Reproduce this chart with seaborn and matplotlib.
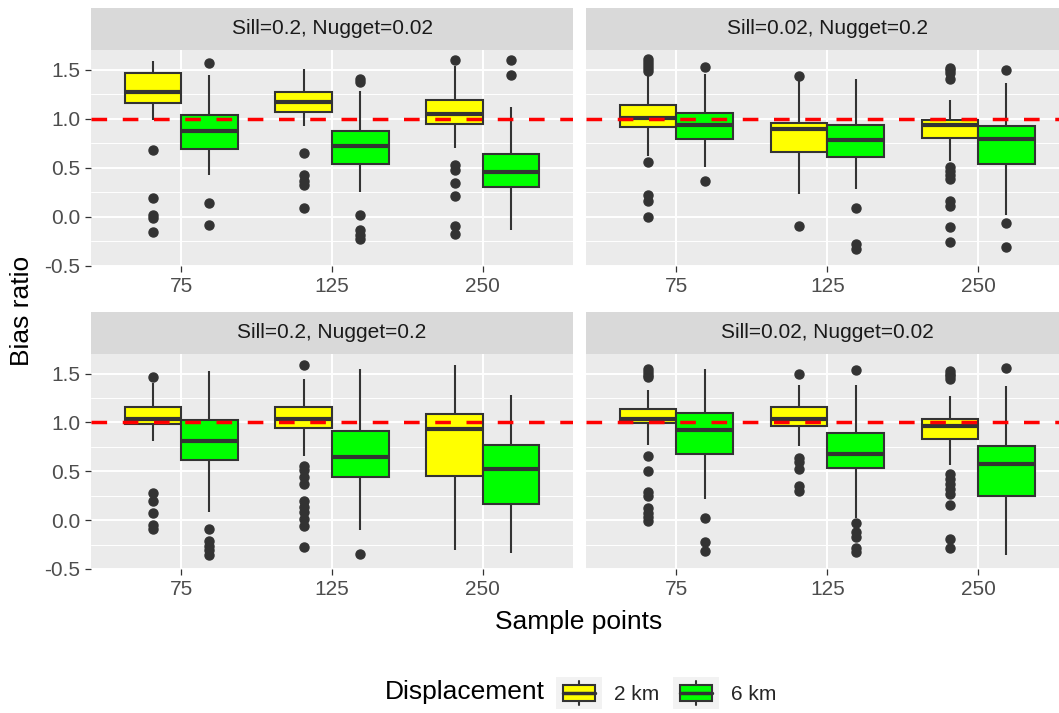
import numpy as np
import pandas as pd
import matplotlib
matplotlib.use("Agg")
import matplotlib.pyplot as plt
from matplotlib.patches import Rectangle, Patch
from matplotlib.lines import Line2D
from matplotlib.legend_handler import HandlerBase
from matplotlib.ticker import FixedLocator
import seaborn as sns

# ---------------- data ----------------
facets = ["Sill=0.2, Nugget=0.02", "Sill=0.02, Nugget=0.2",
          "Sill=0.2, Nugget=0.2", "Sill=0.02, Nugget=0.02"]
sample_points = ["75", "125", "250"]
displacement = ["2 km", "6 km"]
box_colors = ["#FFFF00", "#00FF00"]

# order: facet -> sample points -> displacement
q1 = [1.16, 0.69, 1.07, 0.54, 0.95, 0.30,
      0.91, 0.79, 0.66, 0.61, 0.80, 0.54,
      0.98, 0.62, 0.94, 0.44, 0.45, 0.17,
      0.99, 0.68, 0.96, 0.53, 0.83, 0.25]
median = [1.27, 0.87, 1.17, 0.72, 1.05, 0.46,
          1.01, 0.94, 0.89, 0.78, 0.94, 0.79,
          1.04, 0.81, 1.03, 0.65, 0.93, 0.52,
          1.03, 0.92, 1.04, 0.68, 0.96, 0.57]
q3 = [1.47, 1.04, 1.27, 0.87, 1.19, 0.64,
      1.14, 1.06, 0.96, 0.94, 0.99, 0.92,
      1.16, 1.02, 1.16, 0.91, 1.09, 0.77,
      1.14, 1.10, 1.16, 0.89, 1.04, 0.76]
whisker_low = [0.99, 0.43, 0.92, 0.25, 0.70, -0.14,
               0.62, 0.51, 0.23, 0.28, 0.57, 0.02,
               0.81, 0.08, 0.66, -0.10, -0.31, -0.34,
               0.77, 0.22, 0.76, 0.02, 0.56, -0.36]
whisker_high = [1.59, 1.45, 1.51, 1.28, 1.54, 1.12,
                1.45, 1.46, 1.38, 1.40, 1.19, 1.36,
                1.40, 1.53, 1.44, 1.55, 1.59, 1.28,
                1.33, 1.55, 1.38, 1.38, 1.27, 1.37]
outliers = [
    [0.68, 0.19, 0.02, -0.01, -0.16],
    [1.57, 0.14, -0.08],
    [0.65, 0.42, 0.36, 0.32, 0.09],
    [1.40, 1.37, 0.02, -0.14, -0.19, -0.23],
    [1.60, 0.53, 0.48, 0.34, 0.21, -0.09, -0.18],
    [1.60, 1.45],
    [1.61, 1.58, 1.55, 1.52, 1.49, 0.56, 0.22, 0.16, 0.0],
    [1.53, 0.36],
    [1.43, -0.10],
    [0.09, -0.28, -0.33],
    [1.52, 1.50, 1.47, 1.40, 0.51, 0.47, 0.42, 0.38, 0.16, 0.11, -0.11, -0.26],
    [1.50, -0.06, -0.31],
    [1.46, 0.28, 0.20, 0.07, -0.05, -0.09],
    [-0.09, -0.21, -0.26, -0.31, -0.36],
    [1.59, 0.55, 0.51, 0.44, 0.37, 0.20, 0.13, 0.08, 0.01, -0.06, -0.27],
    [-0.35],
    [],
    [],
    [1.55, 1.52, 1.49, 1.46, 0.66, 0.50, 0.29, 0.25, 0.12, 0.07, 0.03, -0.01],
    [0.02, -0.22, -0.32],
    [1.50, 0.64, 0.59, 0.52, 0.35, 0.30],
    [1.54, -0.03, -0.12, -0.17, -0.29, -0.33],
    [1.53, 1.50, 1.47, 1.44, 0.47, 0.42, 0.37, 0.32, 0.27, 0.16, -0.19, -0.29],
    [1.56],
]


def box_sample(lo, a, b, c, hi, extra, m=50):
    # a sample whose quartiles / whiskers / fliers give exactly the box
    return list(extra) + [lo, hi] + [a] * m + [b] * m + [c] * m


rows = []
k = 0
for f in facets:
    for n in sample_points:
        for d in displacement:
            for v in box_sample(whisker_low[k], q1[k], median[k], q3[k], whisker_high[k], outliers[k]):
                rows.append((f, n, d, v))
            k += 1
df = pd.DataFrame(rows, columns=["facet", "n", "disp", "ratio"])

# ---------------- style ----------------
sns.set_theme(style="darkgrid", rc={"axes.facecolor": "#EBEBEB", "grid.color": "white"})
plt.rcParams["font.family"] = ["Liberation Sans", "DejaVu Sans"]
plt.rcParams["axes.unicode_minus"] = False

W, H = 1059, 713
fig = plt.figure(figsize=(W / 100, H / 100), dpi=100)
fig.patch.set_facecolor("white")


def px(x0, y0, x1, y1):
    return [x0 / W, 1 - y1 / H, (x1 - x0) / W, (y1 - y0) / H]


panels = [(90.7, 50, 573.3, 265.7), (586, 50, 1068.6, 265.7),
          (90.7, 354, 573.3, 569), (586, 354, 1068.6, 569)]

for i, f in enumerate(facets):
    x0, y0, x1, y1 = panels[i]
    ax = fig.add_axes(px(x0, y0, x1, y1))
    strip = fig.add_axes(px(x0, y0 - 42, x1, y0))
    strip.set_facecolor("#D9D9D9")
    strip.set_xticks([])
    strip.set_yticks([])
    strip.grid(False)
    for s in strip.spines.values():
        s.set_visible(False)
    strip.text(0.5, 0.5, f, ha="center", va="center", fontsize=15, color="#1A1A1A")

    sns.boxplot(data=df[df.facet == f], x="n", y="ratio", hue="disp",
                order=sample_points, hue_order=displacement,
                palette=dict(zip(displacement, box_colors)), saturation=1,
                width=0.75, gap=0, linecolor="#333333", linewidth=1.5,
                showcaps=False, fliersize=6.5,
                flierprops=dict(marker="o", markerfacecolor="#333333", markeredgecolor="#333333"),
                medianprops=dict(linewidth=3, color="#333333"),
                legend=False, ax=ax)

    ax.axhline(1.0, color="red", lw=2.5, dashes=(4.5, 4.5), zorder=10)

    ax.set_xlim(-0.6, 2.6)
    ax.set_ylim(-0.49, 1.70)
    ax.set_yticks([-0.5, 0.0, 0.5, 1.0, 1.5])
    ax.set_yticklabels(["-0.5", "0.0", "0.5", "1.0", "1.5"])
    ax.yaxis.set_minor_locator(FixedLocator([-0.25, 0.25, 0.75, 1.25]))
    ax.set_axisbelow(True)
    ax.grid(False)
    ax.yaxis.grid(True, which="major", color="white", lw=1.4)
    ax.yaxis.grid(True, which="minor", color="white", lw=0.7)
    ax.xaxis.grid(True, which="major", color="white", lw=1.4)
    ax.set_xlabel("")
    ax.set_ylabel("")
    for s in ax.spines.values():
        s.set_visible(False)
    ax.tick_params(which="major", length=4, width=0.9, color="#333333",
                   labelsize=15, labelcolor="#4D4D4D", pad=3.5)
    ax.tick_params(which="minor", length=0)
    ax.tick_params(axis="x", bottom=True, pad=4)
    ax.tick_params(axis="y", left=True)
    if i % 2 == 1:
        ax.tick_params(axis="y", left=False, labelleft=False)

fig.text(22 / W, 1 - 311 / H, "Bias ratio", rotation=90, ha="center", va="center",
         fontsize=19, color="black")
fig.text(579 / W, 1 - 622 / H, "Sample points", ha="center", va="center",
         fontsize=19, color="black")


# legend key drawn like a little boxplot
class BoxKey(HandlerBase):
    def create_artists(self, legend, orig_handle, xdescent, ydescent, width, height, fontsize, trans):
        x0, y0 = -xdescent, -ydescent
        bg = Rectangle((x0, y0), width, height, facecolor="#F2F2F2", edgecolor="none", transform=trans)
        bx = Rectangle((x0 + 0.15 * width, y0 + 0.25 * height), 0.7 * width, 0.5 * height,
                       facecolor=orig_handle.get_facecolor(), edgecolor="#333333", lw=1.5, transform=trans)
        med = Line2D([x0 + 0.15 * width, x0 + 0.85 * width], [y0 + 0.5 * height] * 2,
                     color="#333333", lw=2.5, transform=trans)
        w1 = Line2D([x0 + 0.5 * width] * 2, [y0 + 0.12 * height, y0 + 0.25 * height],
                    color="#333333", lw=1.5, transform=trans)
        w2 = Line2D([x0 + 0.5 * width] * 2, [y0 + 0.75 * height, y0 + 0.88 * height],
                    color="#333333", lw=1.5, transform=trans)
        return [bg, bx, med, w1, w2]


fig.text(385 / W, 1 - 692 / H, "Displacement", ha="left", va="center", fontsize=19, color="black")
handles = [Patch(facecolor=c) for c in box_colors]
fig.legend(handles=handles, labels=displacement, handler_map={Patch: BoxKey()},
           loc="center left", bbox_to_anchor=(556 / W, 1 - 693 / H), ncol=2, frameon=False,
           fontsize=15, handlelength=2.2, handleheight=1.95, handletextpad=0.58,
           columnspacing=0.67, borderpad=0, borderaxespad=0)

fig.savefig("out.png", dpi=100)
